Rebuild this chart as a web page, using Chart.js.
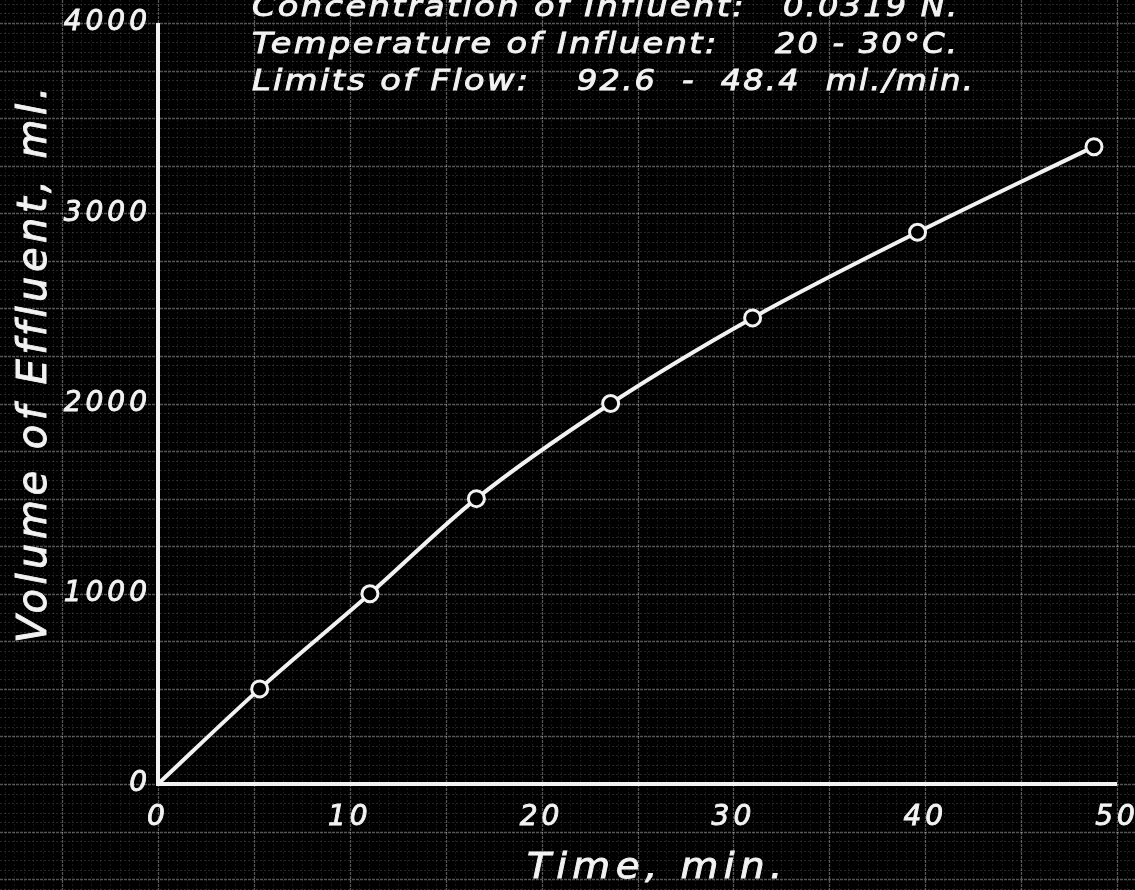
<!DOCTYPE html>
<html>
<head>
<meta charset="utf-8">
<script src="https://cdn.jsdelivr.net/npm/chart.js@4"></script>
<style>
  html, body { margin: 0; padding: 0; background: #000; }
  #wrap { width: 1135px; height: 890px; }
</style>
</head>
<body>
<div id="wrap"><canvas id="chart" width="1135" height="890"></canvas></div>
<script>
// Data
const timeMin  = [0, 5.3, 11.05, 16.6, 23.6, 31.0, 39.6, 48.8];
const volumeMl = [0, 500, 1000, 1500, 2000, 2450, 2900, 3350];
const markerRadius = [0, 8, 8, 8, 8, 8, 8, 8];   // origin has no circle

// Axis ranges / ticks
const xRange = [0, 50];
const yRange = [0, 4000];
const xTickStep = 10;
const yTickStep = 1000;

// Texts
const xTitle = 'Time, min.';
const yTitle = 'Volume of Effluent, ml.';
const noteLabels = ['Concentration of Influent:', 'Temperature of Influent:', 'Limits of Flow:'];
const noteValues = ['0.0319 N.', '20 - 30°C.', '92.6  -  48.4  ml./min.'];

const INK = '#f2f2f2';
const FONT = '"DejaVu Sans", sans-serif';

// hand lettering: wider glyphs, a bit of pen weight
function letter(ctx, text, x, y, size, spacing, stretch) {
    ctx.save();
    ctx.translate(x, y);
    ctx.scale(stretch, 1);
    ctx.font = 'italic ' + size + 'px ' + FONT;
    ctx.letterSpacing = spacing + 'px';
    ctx.lineWidth = 0.9;
    ctx.strokeStyle = INK;
    ctx.fillText(text, 0, 0);
    ctx.strokeText(text, 0, 0);
    ctx.restore();
}

// graph-paper grid across the whole sheet, laid out from the scales
const paperGrid = {
    id: 'paperGrid',
    beforeDraw(chart) {
        const ctx = chart.ctx;
        const xs = chart.scales.x, ys = chart.scales.y;
        const W = chart.width, H = chart.height;
        ctx.save();
        ctx.fillStyle = '#000';
        ctx.fillRect(0, 0, W, H);

        // minor lines
        ctx.lineWidth = 1;
        ctx.setLineDash([2, 2]);
        ctx.strokeStyle = 'rgba(255,255,255,0.09)';
        for (let v = -10; v <= 55; v += 0.5) {
            if (v % 5 === 0) continue;
            const px = Math.round(xs.getPixelForValue(v)) + 0.5;
            ctx.beginPath(); ctx.moveTo(px, 0); ctx.lineTo(px, H); ctx.stroke();
        }
        ctx.strokeStyle = 'rgba(255,255,255,0.15)';
        for (let v = -750; v <= 4250; v += 50) {
            if (v % 250 === 0) continue;
            const py = Math.round(ys.getPixelForValue(v)) + 0.5;
            ctx.beginPath(); ctx.moveTo(0, py); ctx.lineTo(W, py); ctx.stroke();
        }

        // major lines
        ctx.strokeStyle = 'rgba(255,255,255,0.33)';
        ctx.lineWidth = 1.3;
        ctx.setLineDash([3, 1]);
        for (let v = -10; v <= 55; v += 5) {
            const px = Math.round(xs.getPixelForValue(v)) + 0.5;
            ctx.beginPath(); ctx.moveTo(px, 0); ctx.lineTo(px, H); ctx.stroke();
        }
        for (let v = -750; v <= 4250; v += 250) {
            const py = Math.round(ys.getPixelForValue(v)) + 0.5;
            ctx.beginPath(); ctx.moveTo(0, py); ctx.lineTo(W, py); ctx.stroke();
        }
        ctx.restore();
        // widely spaced hand lettering for the tick labels
        ctx.letterSpacing = '4px';
    },
    beforeDatasetsDraw(chart) {
        // the two inked axes, exactly from 0 to the range ends
        const ctx = chart.ctx;
        const xs = chart.scales.x, ys = chart.scales.y;
        const x0 = xs.getPixelForValue(xRange[0]), x1 = xs.getPixelForValue(xRange[1]);
        const y0 = ys.getPixelForValue(yRange[0]), y1 = ys.getPixelForValue(yRange[1]);
        ctx.save();
        ctx.strokeStyle = INK;
        ctx.lineWidth = 4;
        ctx.lineCap = 'butt';
        ctx.beginPath();
        ctx.moveTo(x0, y1);
        ctx.lineTo(x0, y0);
        ctx.lineTo(x1, y0);
        ctx.stroke();
        ctx.restore();
    },
    afterDraw(chart) {
        const ctx = chart.ctx;
        ctx.save();
        ctx.fillStyle = INK;
        ctx.textBaseline = 'alphabetic';
        ctx.textAlign = 'left';

        // x title
        letter(ctx, xTitle, 527, 878, 36, 5, 1.08);

        // y title, rotated
        ctx.save();
        ctx.translate(46, 643);
        ctx.rotate(-Math.PI / 2);
        letter(ctx, yTitle, 0, 0, 40, 4.5, 1);
        ctx.restore();

        // notes in the upper left
        const valueX = [783, 775, 577];
        noteLabels.forEach((t, i) => {
            const y = 16 + i * 37;
            letter(ctx, t, 252, y, 28, 2, 1.2);
            letter(ctx, noteValues[i], valueX[i], y, 28, 2, 1.14);
        });
        ctx.restore();
    }
};

const tickFont = { family: FONT, size: 28, style: 'italic' };

new Chart(document.getElementById('chart'), {
    type: 'line',
    data: {
        datasets: [{
            data: timeMin.map((t, i) => ({ x: t, y: volumeMl[i] })),
            borderColor: INK,
            borderWidth: 4,
            cubicInterpolationMode: 'monotone',
            pointRadius: markerRadius,
            pointHoverRadius: markerRadius,
            pointBorderWidth: 3,
            pointBorderColor: INK,
            pointBackgroundColor: '#000',
            fill: false
        }]
    },
    options: {
        responsive: false,
        animation: false,
        layout: { padding: { top: 23, right: 18, left: 0, bottom: 0 } },
        plugins: { legend: { display: false }, tooltip: { enabled: false } },
        scales: {
            x: {
                type: 'linear',
                min: xRange[0],
                max: xRange[1],
                grid: { display: false, drawTicks: false },
                border: { display: false },
                ticks: {
                    stepSize: xTickStep, color: INK, font: tickFont, padding: 17, maxRotation: 0,
                    textStrokeColor: INK, textStrokeWidth: 0.9,
                    callback: v => String(v)
                },
                afterFit(scale) {
                    scale.height = 106;
                    scale.paddingLeft = 0;
                    scale.paddingRight = 0;
                }
            },
            y: {
                min: yRange[0],
                max: yRange[1],
                grid: { display: false, drawTicks: false },
                border: { display: false },
                ticks: {
                    stepSize: yTickStep, color: INK, font: tickFont, padding: 7,
                    textStrokeColor: INK, textStrokeWidth: 0.9,
                    callback: v => String(v)
                },
                afterFit(scale) {
                    scale.width = 158;
                    scale.paddingTop = 0;
                    scale.paddingBottom = 0;
                }
            }
        }
    },
    plugins: [paperGrid]
});
</script>
</body>
</html>
